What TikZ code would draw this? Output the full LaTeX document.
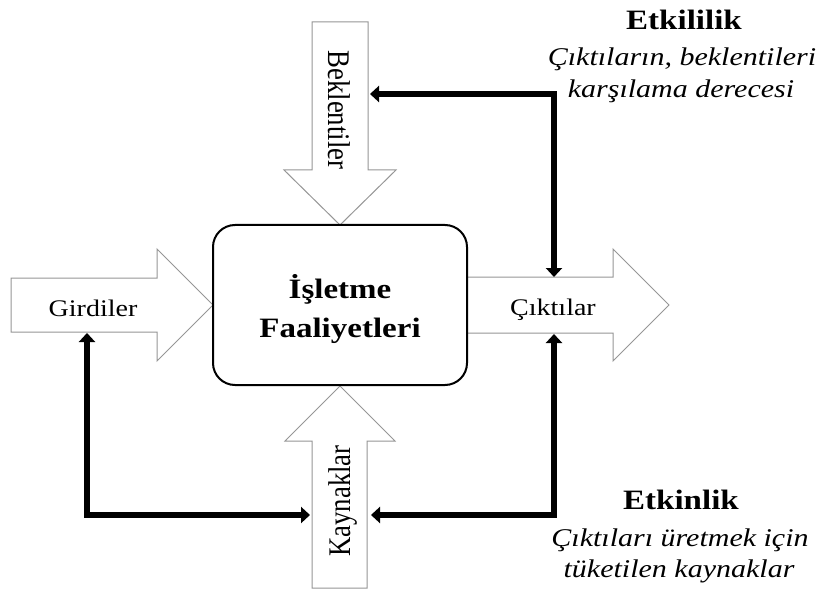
\documentclass[tikz,border=0pt]{standalone}
\usepackage{fontspec}
\usepackage{graphicx}
\setmainfont{Liberation Serif}
\usetikzlibrary{arrows.meta}

% text set slightly flattened vertically
\newcommand\vsq[1]{\scalebox{1}[0.85]{#1}}
% the same flattening for text that runs vertically
\newcommand\hsq[1]{\scalebox{0.85}[1]{#1}}

\definecolor{outlinegray}{RGB}{150,150,150}

\begin{document}
\begin{tikzpicture}[x=1bp,y=-1bp,
  blockarrow/.style={draw=outlinegray, line width=1bp, fill=white, line join=miter},
  core/.style={draw=black, line width=2bp, rounded corners=22bp, fill=white,
    minimum width=254bp, minimum height=160bp, inner sep=0pt},
  fb/.style={line width=6bp, line join=miter,
    {Triangle[length=9bp,width=16bp]}-{Triangle[length=9bp,width=16bp]}},
  lbl/.style={font=\fontsize{28bp}{34bp}\selectfont, inner sep=0pt, anchor=base},
  vlbl/.style={font=\fontsize{31.5bp}{36bp}\selectfont, inner sep=0pt, anchor=base},
  titlefont/.style={font=\fontsize{33bp}{40bp}\selectfont\bfseries, inner sep=0pt, anchor=base},
  notefont/.style={font=\fontsize{30bp}{36bp}\selectfont\itshape, inner sep=0pt, anchor=base}
]
\path[use as bounding box] (0,0) rectangle (818,592);

% block arrows around the central activity box
\draw[blockarrow] (312,22) -- (368,22) -- (368,170) -- (396,170) -- (340,225)
  -- (284,170) -- (312,170) -- cycle;
\draw[blockarrow] (312,588) -- (367,588) -- (367,441) -- (395,441) -- (340,386)
  -- (285,441) -- (312,441) -- cycle;
\draw[blockarrow] (11,278) -- (157,278) -- (157,249) -- (213,305) -- (157,361)
  -- (157,332) -- (11,332) -- cycle;
\draw[blockarrow] (460,277) -- (613,277) -- (613,249) -- (669,305) -- (613,361)
  -- (613,333) -- (460,333) -- cycle;

% central box
\node[core] (core) at (340,305) {};
\node[titlefont] (title1) at (340,298) {\vsq{İşletme}};
\node[titlefont] (title2) at (340,337) {\vsq{Faaliyetleri}};

% labels of the block arrows
\node[lbl] (girdi) at (93,316) {\vsq{Girdiler}};
\node[lbl] (cikti) at (553,315) {\vsq{Çıktılar}};
\node[vlbl, rotate=-90] (bekl) at (328,110) {\hsq{Beklentiler}};
\node[vlbl, rotate=90] (kayn) at (350,501) {\hsq{Kaynaklar}};

% end points of the feedback loops
\coordinate (bekR) at (370,94);
\coordinate (effCorner) at (554,94);
\coordinate (ciktiTop) at (554,277);
\coordinate (ciktiBot) at (554,334);
\coordinate (effBotCorner) at (554,515);
\coordinate (kaynR) at (371,515);
\coordinate (girdiBot) at (87,333);
\coordinate (girdiCorner) at (87,515);
\coordinate (kaynL) at (310,515);

% feedback loops
\draw[fb] (bekR) -- (effCorner) -- (ciktiTop);
\draw[fb] (kaynR) -- (effBotCorner) -- (ciktiBot);
\draw[fb] (girdiBot) -- (girdiCorner) -- (kaynL);

% effectiveness note
\node[titlefont] (etkililik) at (684,30) {\vsq{Etkililik}};
\node[notefont] (etkililik1) at (682,66) {\vsq{Çıktıların, beklentileri}};
\node[notefont] (etkililik2) at (681,98) {\vsq{karşılama derecesi}};

% efficiency note
\node[titlefont] (etkinlik) at (681,509) {\vsq{Etkinlik}};
\node[notefont] (etkinlik1) at (680,546) {\vsq{Çıktıları üretmek için}};
\node[notefont] (etkinlik2) at (679,577) {\vsq{tüketilen kaynaklar}};
\end{tikzpicture}
\end{document}
